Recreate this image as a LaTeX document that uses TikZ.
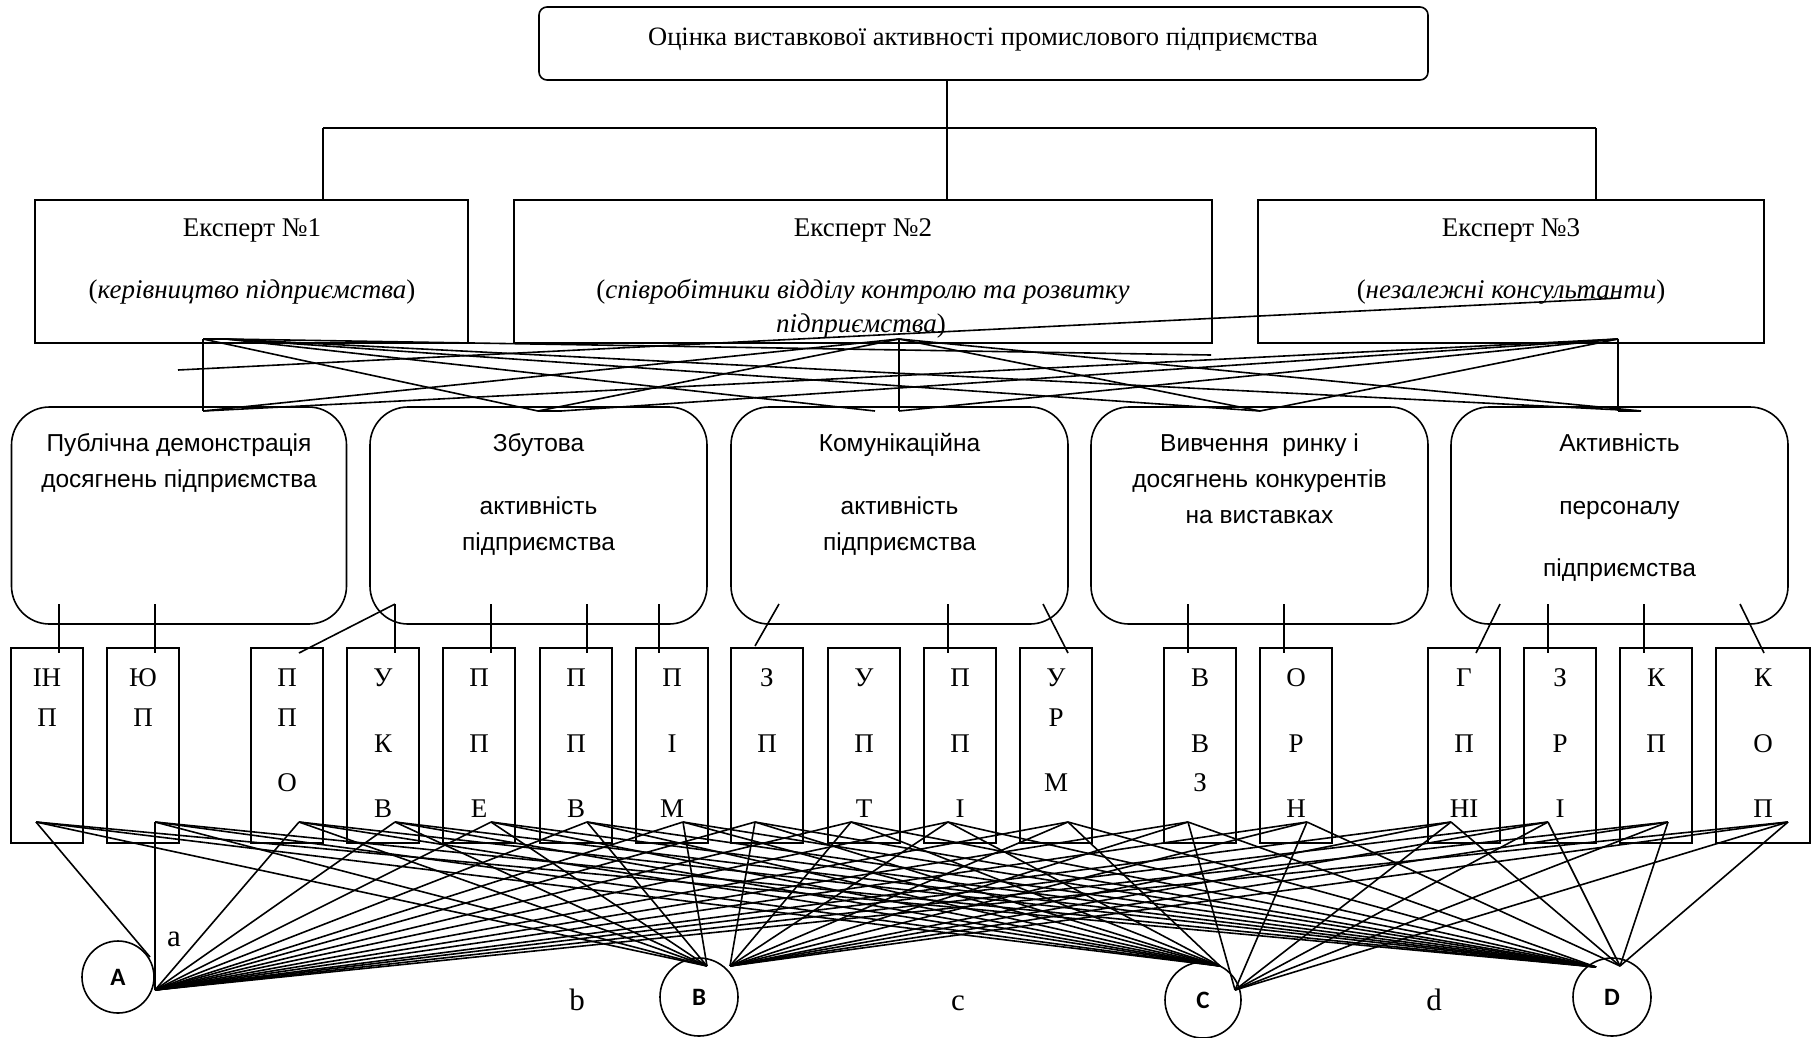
\documentclass[tikz,border=0pt]{standalone}
\usepackage{fontspec}
\setmainfont{Liberation Serif}
\newfontfamily\sansf{Liberation Sans}
\newfontfamily\circf{Carlito}
\begin{document}
\begin{tikzpicture}[x=1pt,y=-1pt,line width=1.6pt,
  topbox/.style={draw,rounded corners=8pt,minimum width=889pt,minimum height=73pt,inner sep=0pt},
  expbox/.style={draw,minimum height=143pt,inner sep=0pt},
  catbox/.style={draw,rounded corners=38pt,minimum height=217pt,inner sep=0pt},
  sbox/.style={draw,minimum width=72pt,minimum height=195pt,inner sep=0pt},
  circ/.style={draw,circle,minimum size=76pt,inner sep=0pt,font=\circf\bfseries\fontsize{25}{25}\selectfont},
  ser/.style={inner sep=0pt,anchor=base,font=\fontsize{27}{31}\selectfont},
  sns/.style={inner sep=0pt,anchor=base,font=\sansf\fontsize{24.5}{28}\selectfont},
  ltr/.style={inner sep=0pt,anchor=base,font=\fontsize{27}{30}\selectfont},
  lbl/.style={inner sep=0pt,anchor=base,font=\fontsize{31}{34}\selectfont}]
\useasboundingbox (0,0) rectangle (1811,1037);

% ---------- top ----------
\node[topbox] (top) at (983.5,43.5) {};
\node[ser,font=\fontsize{26.5}{30}\selectfont] (ttl) at (983,45) {Оцінка виставкової активності промислового підприємства};
\coordinate (tb) at (947,80);
\coordinate (tj) at (947,128);
\coordinate (tl) at (323,128);
\coordinate (tr) at (1596,128);

% ---------- experts ----------
\node[expbox,minimum width=433pt] (ex1) at (251.5,271.5) {};
\node[expbox,minimum width=698pt] (ex2) at (863,271.5) {};
\node[expbox,minimum width=506pt] (ex3) at (1511,271.5) {};
\node[ser] (e1l1) at (252,236) {Експерт №1};
\node[ser] (e1l2) at (252,298) {(\textit{керівництво підприємства})};
\node[ser] (e2l1) at (863,236) {Експерт №2};
\node[ser] (e2l2) at (863,298) {(\textit{співробітники відділу контролю та розвитку}};
\node[ser] (e2l3) at (861,332) {\textit{підприємства})};
\node[ser] (e3l1) at (1511,236) {Експерт №3};
\node[ser] (e3l2) at (1511,298) {(\textit{незалежні консультанти})};

\draw (tb) -- (tj);
\draw (tl) -- (tr);
\draw (tl) -- (tl |- ex1.north);
\draw (tj) -- (tj |- ex2.north);
\draw (tr) -- (tr |- ex3.north);

% ---------- categories ----------
\node[catbox,minimum width=335pt] (c1) at (179,515.5) {};
\node[catbox,minimum width=337pt] (c2) at (538.5,515.5) {};
\node[catbox,minimum width=337pt] (c3) at (899.5,515.5) {};
\node[catbox,minimum width=337pt] (c4) at (1259.5,515.5) {};
\node[catbox,minimum width=337pt] (c5) at (1619.5,515.5) {};

\node[sns] (c1a) at (179,451) {Публічна демонстрація};
\node[sns] (c1b) at (179,487) {досягнень підприємства};
\node[sns] (c2x) at (538.5,451) {Збутова};
\node[sns] (c2y) at (538.5,514) {активність};
\node[sns] (c2z) at (538.5,550) {підприємства};
\node[sns] (c3x) at (899.5,451) {Комунікаційна};
\node[sns] (c3y) at (899.5,514) {активність};
\node[sns] (c3z) at (899.5,550) {підприємства};
\node[sns] (c4x) at (1259.5,451) {Вивчення\ \ ринку і};
\node[sns] (c4y) at (1259.5,487) {досягнень конкурентів};
\node[sns] (c4z) at (1259.5,523) {на виставках};
\node[sns] (c5x) at (1619.5,451) {Активність};
\node[sns] (c5y) at (1619.5,514) {персоналу};
\node[sns] (c5z) at (1619.5,576) {підприємства};

% ---------- expert -> category lines ----------
\coordinate (e1a) at (203,339);
\coordinate (e1b) at (226,339);
\coordinate (e2p) at (899,339);
\coordinate (e3p) at (1618,339);
\coordinate (c1t) at (203,411);
\coordinate (c2ta) at (538,411);
\coordinate (c2tb) at (561,411);
\coordinate (c3ta) at (875,411);
\coordinate (c3tb) at (899,411);
\coordinate (c4t) at (1260,411);
\coordinate (c5ta) at (1618,411);
\coordinate (c5tb) at (1641,411);
\coordinate (s1) at (1211,355);
\coordinate (s2a) at (178,370);
\coordinate (s2b) at (1620,298);

\draw (e1a) -- (e1b);
\draw (e1a) -- (c1t);
\draw (e1a) -- (c2ta);
\draw (e1b) -- (c3ta);
\draw (e1b) -- (c4t);
\draw (e1b) -- (c5tb);
\draw (e1b) -- (s1);
\draw (e2p) -- (c1t);
\draw (e2p) -- (c2ta);
\draw (e2p) -- (c3tb);
\draw (e2p) -- (c4t);
\draw (e2p) -- (c5tb);
\draw (e3p) -- (c1t);
\draw (e3p) -- (c2tb);
\draw (e3p) -- (c3tb);
\draw (e3p) -- (c4t);
\draw (e3p) -- (c5ta);
\draw (c2ta) -- (c2tb);
\draw (c5ta) -- (c5tb);
\draw (s2a) -- (s2b);

% ---------- small boxes ----------
\foreach \n/\cx in {1/47,2/143,3/287,4/383,5/479,6/576,7/672,8/767,9/864,10/960,11/1056,12/1200,13/1296,14/1464,15/1560,16/1656}{
  \node[sbox] (b\n) at (\cx,745.5) {};
}
\node[sbox,minimum width=94pt] (b17) at (1763,745.5) {};

\foreach \n/\cx/\la/\ya/\lb/\yb/\lc/\yc in {
  1/47/ІН/686/П/726//0,
  2/143/Ю/686/П/726//0,
  3/287/П/686/П/726/О/791,
  4/383/У/686/К/752/В/817,
  5/479/П/686/П/752/Е/817,
  6/576/П/686/П/752/В/817,
  7/672/П/686/І/752/М/817,
  8/767/З/686/П/752//0,
  9/864/У/686/П/752/Т/817,
  10/960/П/686/П/752/І/817,
  11/1056/У/686/Р/726/М/791,
  12/1200/В/686/В/752/З/791,
  13/1296/О/686/Р/752/Н/817,
  14/1464/Г/686/П/752/НІ/817,
  15/1560/З/686/Р/752/І/817,
  16/1656/К/686/П/752//0,
  17/1763/К/686/О/752/П/817}{
  \node[ltr] (t\n a) at (\cx,\ya) {\la};
  \node[ltr] (t\n b) at (\cx,\yb) {\lb};
  \ifnum\yc>0 \node[ltr] (t\n c) at (\cx,\yc) {\lc};\fi
}

% ---------- category -> small box connectors ----------
\foreach \n/\xa/\xb/\yb in {1/59/59/653,2/155/155/653,3/395/299/653,4/395/395/653,5/491/491/653,
  6/587/587/653,7/659/659/653,8/779/755/646,10/948/948/653,11/1043/1068/653,12/1188/1188/653,
  13/1284/1284/653,14/1500/1476/653,15/1548/1548/653,16/1644/1644/653,17/1740/1764/653}{
  \coordinate (u\n) at (\xa,604);
  \coordinate (v\n) at (\xb,\yb);
  \draw (u\n) -- (v\n);
}

% ---------- circles ----------
\node[circ,minimum size=72pt] (A) at (118,977) {A};
\node[circ,minimum size=78pt] (B) at (699,997) {B};
\node[circ,minimum size=76pt] (C) at (1203,1000) {C};
\node[circ,minimum size=78pt] (D) at (1612,997) {D};
\node[lbl] (la) at (174,946) {a};
\node[lbl] (lb) at (577,1010) {b};
\node[lbl] (lc) at (958,1010) {c};
\node[lbl] (ld) at (1434,1010) {d};

% ---------- bottom network ----------
\coordinate (tA0) at (150,957);
\coordinate (tA) at (155,990);
\coordinate (tB1) at (707,966);
\coordinate (tB2) at (730,966);
\coordinate (tC1) at (1220,966);
\coordinate (tC2) at (1235,990);
\coordinate (tD1) at (1596,967);
\coordinate (tD2) at (1620,966);
\foreach \n/\qx in {1/36,2/155,3/299,4/395,5/491,6/587,7/683,8/755,9/851,10/948,11/1068,12/1188,13/1307,14/1451,15/1548,16/1668,17/1788}{
  \coordinate (q\n) at (\qx,822);
}
\draw (q1) -- (tA0);
\foreach \n in {2,...,17}{ \draw (q\n) -- (tA); }
\foreach \n in {1,...,7}{ \draw (q\n) -- (tB1); }
\foreach \n in {8,...,17}{ \draw (q\n) -- (tB2); }
\foreach \n in {1,...,11}{ \draw (q\n) -- (tC1); }
\foreach \n in {12,...,17}{ \draw (q\n) -- (tC2); }
\foreach \n in {1,...,12}{ \draw (q\n) -- (tD1); }
\foreach \n in {13,...,17}{ \draw (q\n) -- (tD2); }
\end{tikzpicture}
\end{document}
